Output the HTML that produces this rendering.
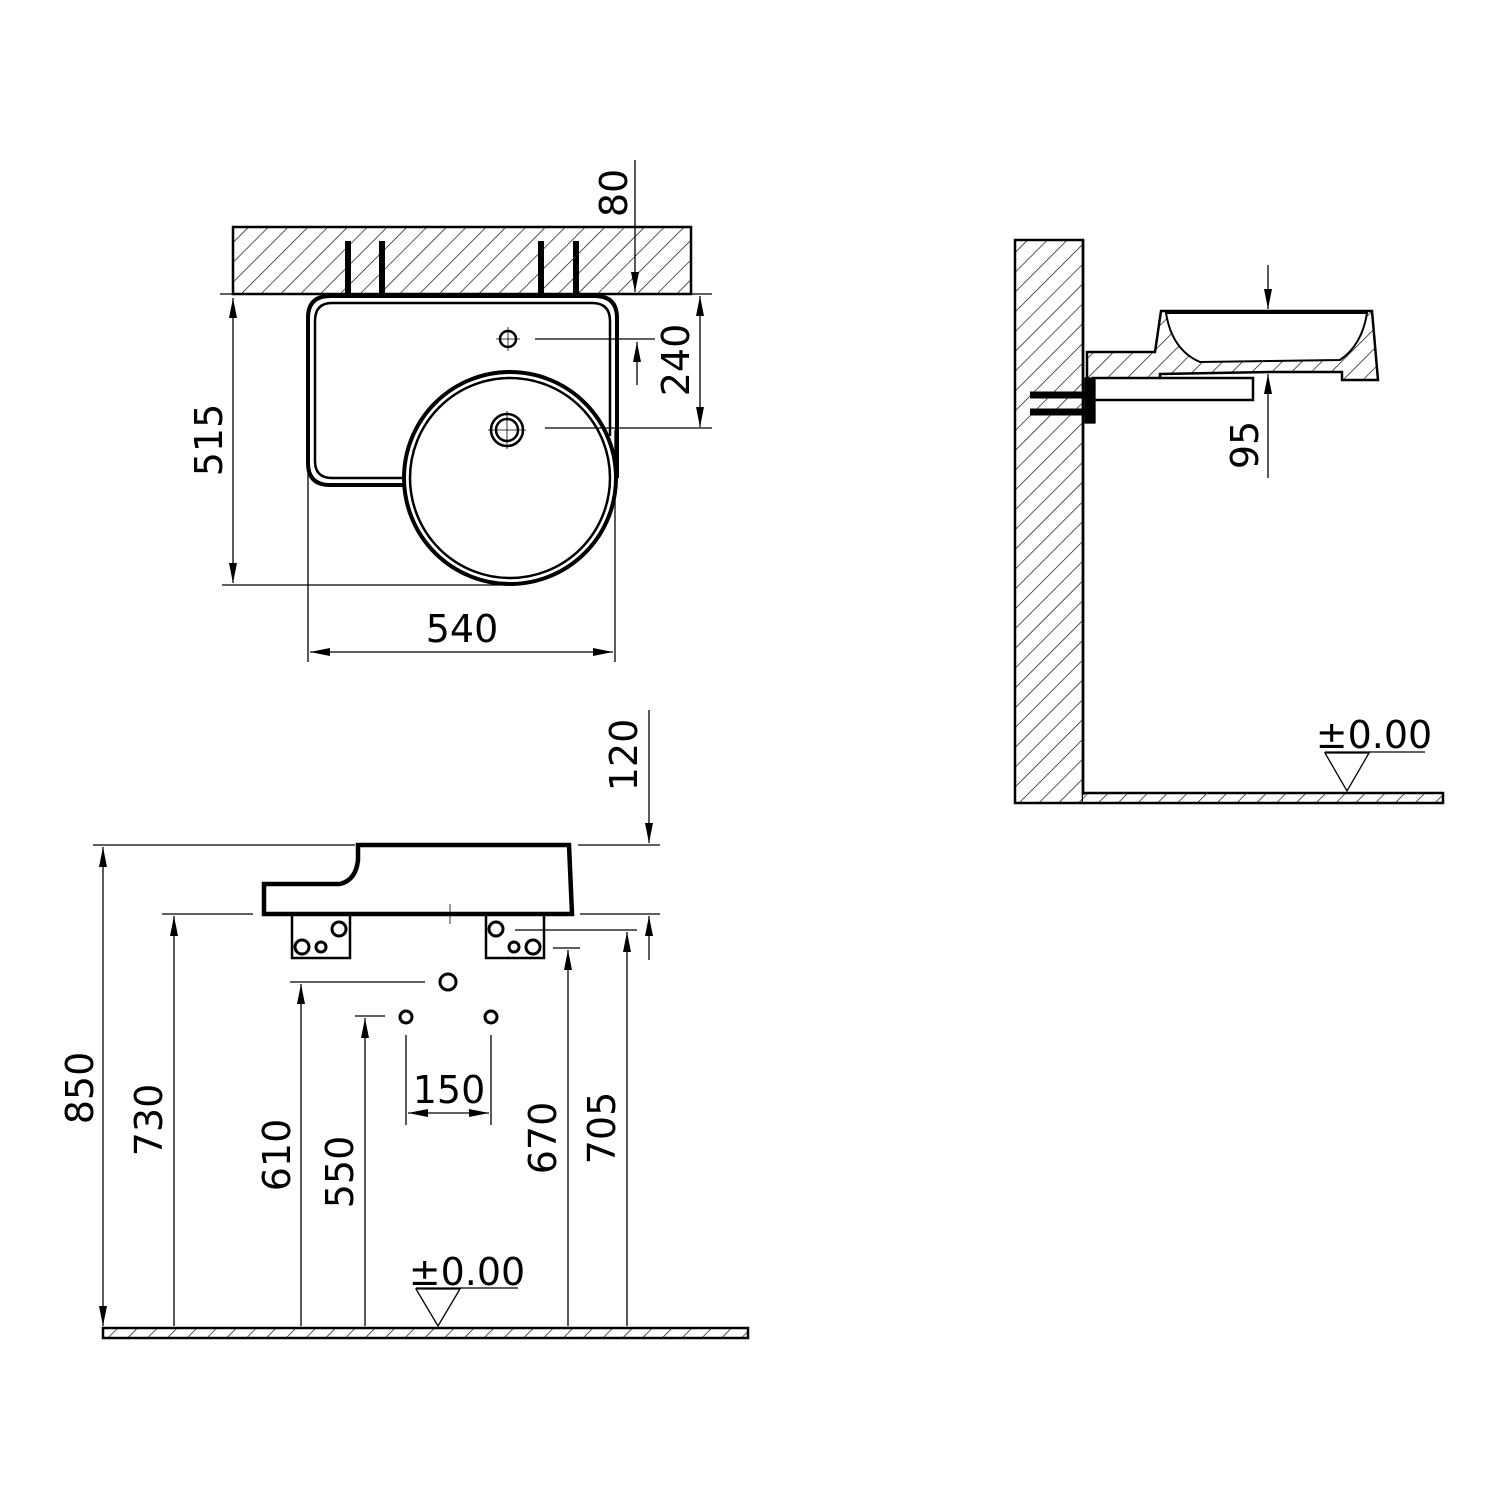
<!DOCTYPE html>
<html><head><meta charset="utf-8"><style>
html,body{margin:0;padding:0;background:#fff}
svg{display:block}
text{font-family:"DejaVu Sans","Liberation Sans",sans-serif;font-size:38px;fill:#000}
</style></head><body>
<svg width="1500" height="1500" viewBox="0 0 1500 1500" xmlns="http://www.w3.org/2000/svg">
<defs>
<pattern id="h" width="14" height="14" patternUnits="userSpaceOnUse" patternTransform="rotate(45)">
<rect width="14" height="14" fill="#fff"/><line x1="0" y1="0" x2="0" y2="14" stroke="#000" stroke-width="1.3"/></pattern>
<marker id="a" viewBox="0 0 20 8" refX="20" refY="4" markerWidth="20" markerHeight="8" markerUnits="userSpaceOnUse" orient="auto-start-reverse"><path d="M0,0 L20,4 L0,8 z" fill="#000"/></marker>
</defs>
<g stroke="#000" fill="none" stroke-width="1.3">
<!-- TOP VIEW -->
<rect x="233" y="227" width="458" height="67" fill="url(#h)" stroke-width="2.5"/>
<g stroke-width="6"><line x1="348" y1="241" x2="348" y2="296"/><line x1="382" y1="241" x2="382" y2="296"/><line x1="541" y1="241" x2="541" y2="296"/><line x1="576" y1="241" x2="576" y2="296"/></g>
<path d="M404,485 L330,485 Q308,485 308,463 L308,318 Q308,296 330,296 L595,296 Q617,296 617,318 L617,478" stroke-width="4"/>
<path d="M402,478 L332,478 Q315,478 315,461 L315,321 Q315,303 332,303 L592,303 Q610,303 610,321 L610,436" stroke-width="2.5"/>
<circle cx="510" cy="478" r="106" stroke-width="4"/>
<circle cx="510" cy="478" r="100" stroke-width="2.5"/>
<circle cx="508" cy="339" r="8" stroke-width="2.5"/>
<circle cx="507" cy="430" r="16" stroke-width="2.5"/><circle cx="507" cy="430" r="11" stroke-width="2.5"/>
<line x1="496" y1="339" x2="520" y2="339" stroke-width="0.8"/><line x1="508" y1="327" x2="508" y2="351" stroke-width="0.8"/>
<line x1="488" y1="430" x2="526" y2="430" stroke-width="0.8"/><line x1="507" y1="411" x2="507" y2="449" stroke-width="0.8"/>
<!-- top dims -->
<line x1="635" y1="160" x2="635" y2="292" marker-end="url(#a)"/>
<line x1="220" y1="294" x2="712" y2="294"/>
<line x1="222" y1="585" x2="510" y2="585"/>
<line x1="233" y1="298" x2="233" y2="583" marker-start="url(#a)" marker-end="url(#a)"/>
<line x1="700" y1="296" x2="700" y2="427" marker-start="url(#a)" marker-end="url(#a)"/>
<line x1="545" y1="428" x2="712" y2="428"/>
<line x1="535" y1="339" x2="655" y2="339"/>
<line x1="637" y1="385" x2="637" y2="342" marker-end="url(#a)"/>
<line x1="308" y1="470" x2="308" y2="662"/><line x1="615" y1="430" x2="615" y2="662"/>
<line x1="310" y1="652" x2="613" y2="652" marker-start="url(#a)" marker-end="url(#a)"/>

<!-- SIDE VIEW -->
<rect x="1015" y="240" width="68" height="563" fill="url(#h)" stroke-width="2.5"/>
<path d="M1083,793 L1443,793 L1443,803 L1083,803" fill="url(#h)" stroke-width="2.5"/>
<line x1="1083" y1="795" x2="1083" y2="240" stroke-width="2.5"/>
<line x1="1325" y1="752" x2="1425" y2="752"/>
<path d="M1325,753 L1369,753 L1347,791 Z"/>
<path d="M1161,311 L1372,311 L1378,380 L1342,380 L1342,372 L1270,372 L1160,374 L1160,380 L1087,380 L1087,352 L1155,352 Z" fill="url(#h)" stroke-width="2.5"/>
<path d="M1166,313 Q1172,350 1200,362 L1340,360 Q1362,345 1367,313 Z" fill="#fff" stroke-width="2"/>
<rect x="1093" y="378" width="160" height="22" stroke-width="2.5" fill="#fff"/>
<rect x="1085" y="378" width="10" height="45" fill="#000"/>
<g stroke-width="7"><line x1="1030" y1="395" x2="1085" y2="395"/><line x1="1030" y1="412" x2="1092" y2="412"/></g>
<line x1="1268" y1="265" x2="1268" y2="309" marker-end="url(#a)"/>
<line x1="1268" y1="478" x2="1268" y2="374" marker-end="url(#a)"/>

<!-- FRONT VIEW -->
<rect x="103" y="1328" width="645" height="10" fill="url(#h)" stroke-width="2.5"/>
<path d="M264,914 L264,884 L340,884 Q356,880 358,860 L358,845 L569,845 L572,914 Z" stroke-width="4.5"/>
<line x1="450" y1="904" x2="450" y2="924" stroke-width="0.8"/>
<rect x="292" y="914" width="58" height="44" stroke-width="2.5"/>
<rect x="486" y="914" width="58" height="44" stroke-width="2.5"/>
<g stroke-width="3"><circle cx="302" cy="947" r="7"/><circle cx="339" cy="929" r="7"/><circle cx="321" cy="947" r="5"/>
<circle cx="496" cy="929" r="7"/><circle cx="533" cy="947" r="7"/><circle cx="514" cy="947" r="5"/>
<circle cx="448" cy="982" r="8"/><circle cx="406" cy="1017" r="6"/><circle cx="491" cy="1017" r="6"/></g>
<line x1="93" y1="845" x2="355" y2="845"/>
<line x1="103" y1="847" x2="103" y2="1326" marker-start="url(#a)" marker-end="url(#a)"/>
<line x1="162" y1="914" x2="253" y2="914"/>
<line x1="174" y1="1326" x2="174" y2="916" marker-end="url(#a)"/>
<line x1="290" y1="982" x2="425" y2="982"/>
<line x1="301" y1="1326" x2="301" y2="984" marker-end="url(#a)"/>
<line x1="355" y1="1016" x2="385" y2="1016"/>
<line x1="365" y1="1326" x2="365" y2="1018" marker-end="url(#a)"/>
<line x1="406" y1="1035" x2="406" y2="1125"/><line x1="491" y1="1035" x2="491" y2="1125"/>
<line x1="408" y1="1113" x2="489" y2="1113" marker-start="url(#a)" marker-end="url(#a)"/>
<line x1="553" y1="948" x2="580" y2="948"/>
<line x1="568" y1="1326" x2="568" y2="950" marker-end="url(#a)"/>
<line x1="515" y1="930" x2="637" y2="930"/>
<line x1="627" y1="1326" x2="627" y2="932" marker-end="url(#a)"/>
<line x1="578" y1="845" x2="660" y2="845"/>
<line x1="649" y1="710" x2="649" y2="843" marker-end="url(#a)"/>
<line x1="580" y1="914" x2="660" y2="914"/>
<line x1="649" y1="960" x2="649" y2="916" marker-end="url(#a)"/>
<line x1="416" y1="1288" x2="518" y2="1288"/>
<path d="M416,1289 L460,1289 L438,1326 Z"/>
</g>
<!-- texts -->
<g>
<text transform="translate(627,193) rotate(-90)" text-anchor="middle">80</text>
<text transform="translate(222,440) rotate(-90)" text-anchor="middle">515</text>
<text transform="translate(689,360) rotate(-90)" text-anchor="middle">240</text>
<text x="462" y="642" text-anchor="middle">540</text>
<text transform="translate(1258,445) rotate(-90)" text-anchor="middle">95</text>
<text x="1374" y="748" text-anchor="middle">±0.00</text>
<text transform="translate(637,755) rotate(-90)" text-anchor="middle">120</text>
<text transform="translate(93,1088) rotate(-90)" text-anchor="middle">850</text>
<text transform="translate(162,1120) rotate(-90)" text-anchor="middle">730</text>
<text transform="translate(290,1155) rotate(-90)" text-anchor="middle">610</text>
<text transform="translate(353,1172) rotate(-90)" text-anchor="middle">550</text>
<text x="449" y="1103" text-anchor="middle">150</text>
<text transform="translate(556,1138) rotate(-90)" text-anchor="middle">670</text>
<text transform="translate(615,1128) rotate(-90)" text-anchor="middle">705</text>
<text x="467" y="1285" text-anchor="middle">±0.00</text>
</g>
</svg>
</body></html>
